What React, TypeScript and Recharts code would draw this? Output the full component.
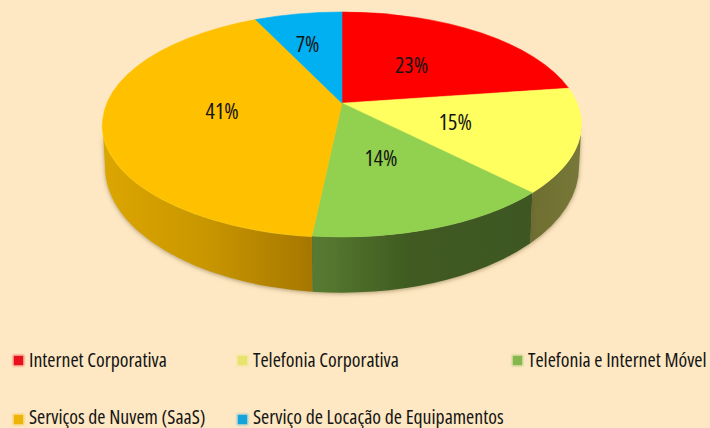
import React from "react";
import { PieChart, Pie, Legend } from "recharts";

const categories = [
  "Internet Corporativa",
  "Telefonia Corporativa",
  "Telefonia e Internet Móvel",
  "Serviços de Nuvem (SaaS)",
  "Serviço de Locação de Equipamentos",
];
const shares = [23, 15, 14, 41, 7];
const topColors = ["#ff0000", "#ffff5f", "#92d050", "#ffc000", "#00b0f0"];
const wallGradients = ["none", "wallY", "wallG", "wallO", "none"];
const rimColors = ["none", "none", "none", "#ffd41e", "none"];
const swatchColors = ["#e8101c", "#e6e46c", "#84b84c", "#eeb408", "#14a4dc"];

const tableData = categories.map((name, i) => ({ name, value: shares[i], fill: topColors[i], wall: wallGradients[i], rim: rimColors[i] }));

const FONT = "'Open Sans', sans-serif";
const W = 710, H = 428;
const CX = 342, CY = 124.5, RX = 239.5, RATIO = 112.5 / 239.5;
const APEX = 0.19; // perspective shift of the pie centre
const BOT_CY = 167, BOT_RX = 237, BOT_RY = 125.7;
const RAD = Math.PI / 180;

// projective map of the unit disc: keeps the rim an ellipse, moves the centre towards the back
function project(r: number, angle: number, cx: number, cy: number, rx: number) {
  const X = r * Math.cos(angle * RAD);
  const Y = r * Math.sin(angle * RAD);
  const d = 1 + APEX * Y;
  const px = (X * Math.sqrt(1 - APEX * APEX)) / d;
  const py = (Y + APEX) / d;
  return { x: cx + rx * px, y: cy - rx * RATIO * py, px, py };
}
// clockwise angle on the ellipse for a pie angle, with a small correction that fades to nothing at the top
function clockT(angle: number) {
  const p = project(1, angle, 0, 0, 1);
  let t = Math.atan2(p.px, p.py) / RAD;
  if (t < -0.001) t += 360;
  return t - 1.5 * Math.sin((t / 2) * RAD);
}
function span(startAngle: number, endAngle: number) {
  const t0 = clockT(startAngle);
  let t1 = clockT(endAngle);
  if (t1 <= t0) t1 += 360;
  return [t0, t1];
}

function TopSlice(props: any) {
  const { cx, cy, outerRadius: R, startAngle, endAngle, fill } = props;
  const c = project(0, 0, cx, cy, R);
  const [t0, t1] = span(startAngle, endAngle);
  const ry = R * RATIO;
  const pt = (t: number) => ({ x: cx + R * Math.sin(t * RAD), y: cy - ry * Math.cos(t * RAD) });
  const a = pt(t0), b = pt(t1);
  const large = t1 - t0 > 180 ? 1 : 0;
  const d = `M${c.x},${c.y}L${a.x},${a.y}A${R},${ry} 0 ${large} 1 ${b.x},${b.y}Z`;
  return <path d={d} fill={fill} stroke={fill} strokeWidth={0.6} filter="url(#soft)" />;
}

function WallSlice(props: any) {
  const { cx, cy, outerRadius: R, startAngle, endAngle, payload } = props;
  const [t0, t1] = span(startAngle, endAngle);
  const from = Math.max(t0, 90);
  const to = Math.min(t1, 270);
  if (to <= from) return <g />;
  const ry = R * RATIO;
  const top = (t: number) => ({ x: cx + R * Math.sin(t * RAD), y: cy - ry * Math.cos(t * RAD) });
  const bot = (t: number) => {
    const q = Math.sin(t * RAD);
    return { x: cx + BOT_RX * q, y: BOT_CY + BOT_RY * Math.sqrt(Math.max(0, 1 - q * q)) };
  };
  const a = top(from), b = top(to), c = bot(to), e = bot(from);
  const d = `M${a.x},${a.y}A${R},${ry} 0 0 1 ${b.x},${b.y}L${c.x},${c.y}A${BOT_RX},${BOT_RY} 0 0 0 ${e.x},${e.y}Z`;
  const rim = `M${a.x},${a.y}A${R},${ry} 0 0 1 ${b.x},${b.y}`;
  return (
    <g>
      <path d={d} fill={`url(#${payload.wall})`} filter="url(#softWall)" />
      <path d={rim} fill="none" stroke={payload.rim} strokeWidth={2} strokeOpacity={0.8} />
    </g>
  );
}

const LABEL_NUDGE: Record<number, [number, number]> = { 0: [-3, -1], 1: [-1, -1], 2: [-1, -3], 3: [-2, -2], 4: [-11, -12] };

function renderLabel(props: any) {
  const { cx, cy, outerRadius: R, midAngle, percent, index } = props;
  const p = project(0.5, midAngle, cx, cy, R);
  const n = LABEL_NUDGE[index] || [0, 0];
  return (
    <text x={p.x + n[0]} y={p.y + n[1]} textAnchor="middle" dominantBaseline="central" fontFamily={FONT} fontSize={22}
      style={{ fontStretch: "75%" }} fill="#141414">
      {Math.round(percent * 100)}%
    </text>
  );
}

const ITEM_X = [13, 237, 512, 13, 237];
const ITEM_Y = [360, 360, 360, 419, 419];
const TEXT_SHIFT = [-1, -1, -1, -3, -3];

function LegendBlock(props: any) {
  const items = (props.payload || []) as any[];
  const rows = categories.map((c) => items.find((it) => it.value === c && it.type !== "none")).filter(Boolean);
  return (
    <div style={{ position: "absolute", left: 0, top: 0, width: W, height: H }}>
      {rows.map((it, i) => (
        <div key={it.value} style={{ position: "absolute", left: ITEM_X[i], top: ITEM_Y[i] - 14, height: 28, display: "flex", alignItems: "center", whiteSpace: "nowrap" }}>
          <span style={{ display: "inline-block", width: 9, height: 9, marginLeft: 1, marginRight: 6, background: swatchColors[i], boxShadow: `0 0 2px 1px ${swatchColors[i]}99` }} />
          <span style={{ fontFamily: FONT, fontSize: 19.8, fontStretch: "75%", color: "#141414", position: "relative", top: TEXT_SHIFT[i] }}>{it.value}</span>
        </div>
      ))}
    </div>
  );
}

export default function App() {
  return (
    <div style={{ position: "absolute", left: 0, top: 0, width: W, height: H, background: "#fee8c3", overflow: "hidden" }}>
      <PieChart width={W} height={H} margin={{ top: 0, right: 0, bottom: 0, left: 0 }}>
        <defs>
          <filter id="soft" x="-5%" y="-5%" width="110%" height="110%"><feGaussianBlur stdDeviation="0.5" /></filter>
          <filter id="softWall" x="-10%" y="-10%" width="120%" height="125%">
            <feDropShadow dx="0" dy="1" stdDeviation="2" floodColor="#6b5a30" floodOpacity="0.55" />
          </filter>
          <linearGradient id="wallO" x1="0" y1="0" x2="1" y2="0">
            <stop offset="0" stopColor="#dca600" />
            <stop offset="0.5" stopColor="#c89600" />
            <stop offset="1" stopColor="#a67700" />
          </linearGradient>
          <linearGradient id="wallG" x1="0" y1="0" x2="1" y2="0">
            <stop offset="0" stopColor="#587c32" />
            <stop offset="0.45" stopColor="#3f5a20" />
            <stop offset="1" stopColor="#3e5722" />
          </linearGradient>
          <linearGradient id="wallY" x1="0" y1="0" x2="1" y2="0">
            <stop offset="0" stopColor="#6e6e30" />
            <stop offset="1" stopColor="#777838" />
          </linearGradient>
        </defs>
        <Pie data={tableData} dataKey="value" nameKey="name" cx={CX} cy={CY} outerRadius={RX} startAngle={90} endAngle={-270}
          stroke="none" legendType="none" isAnimationActive={false} shape={WallSlice} />
        <Pie data={tableData} dataKey="value" nameKey="name" cx={CX} cy={CY} outerRadius={RX} startAngle={90} endAngle={-270}
          stroke="none" isAnimationActive={false} shape={TopSlice} label={renderLabel} labelLine={false} />
        <Legend content={LegendBlock} wrapperStyle={{ position: "absolute", left: 0, top: 0, width: W, height: H, bottom: "auto" }} />
      </PieChart>
    </div>
  );
}
